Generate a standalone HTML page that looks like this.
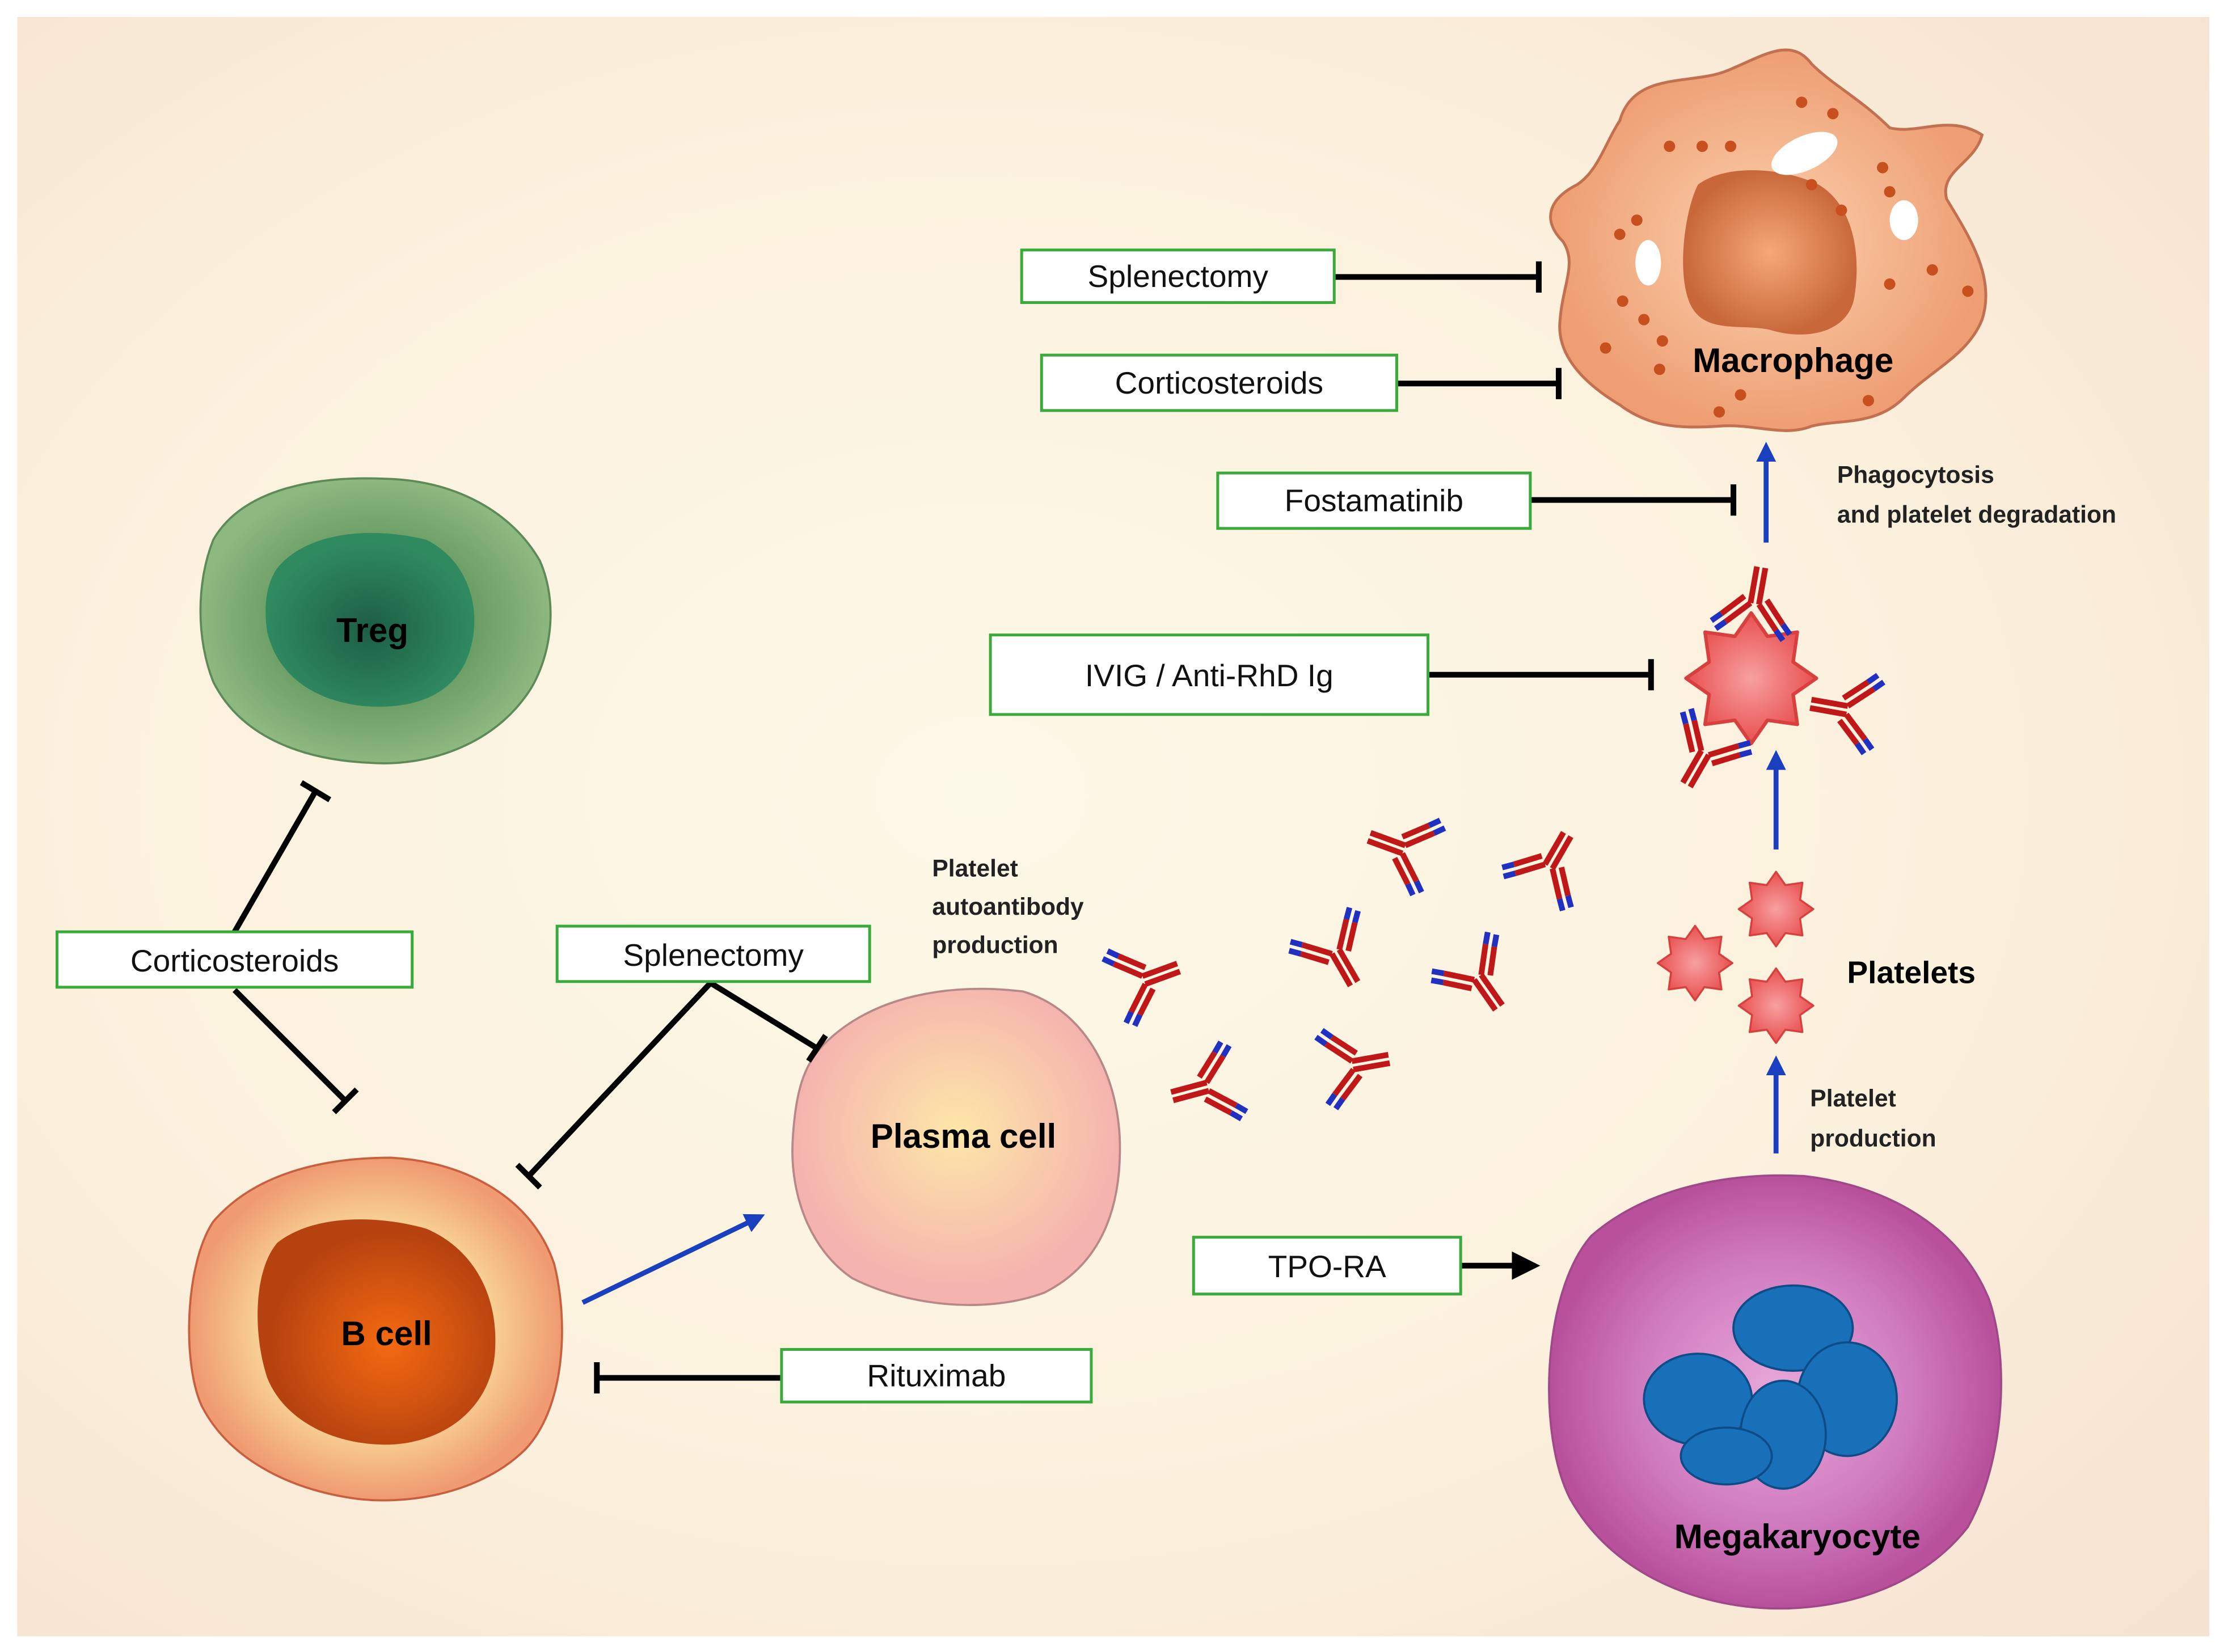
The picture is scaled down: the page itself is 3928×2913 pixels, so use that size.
<!DOCTYPE html>
<html><head><meta charset="utf-8"><style>html,body{margin:0;padding:0;background:#fff}svg{display:block}</style></head><body>
<svg width="3928" height="2913" viewBox="0 0 1568 1163" xmlns="http://www.w3.org/2000/svg" font-family="Liberation Sans, sans-serif">
<defs>
<radialGradient id="bg" cx="0.44" cy="0.48" r="0.75"><stop offset="0" stop-color="#fdf9e8"/><stop offset="0.6" stop-color="#fbf0dc"/><stop offset="1" stop-color="#f6e2d0"/></radialGradient>
<radialGradient id="treg" cx="0.5" cy="0.5" r="0.5"><stop offset="0" stop-color="#3c7a40"/><stop offset="1" stop-color="#8db880"/></radialGradient>
<radialGradient id="tregn" cx="0.5" cy="0.55" r="0.5"><stop offset="0" stop-color="#1d5e45"/><stop offset="1" stop-color="#2f8a60"/></radialGradient>
<radialGradient id="bc" cx="0.5" cy="0.5" r="0.5"><stop offset="0.5" stop-color="#fbe2a0"/><stop offset="1" stop-color="#ef9a70"/></radialGradient>
<radialGradient id="bcn" cx="0.55" cy="0.55" r="0.5"><stop offset="0" stop-color="#f46a10"/><stop offset="1" stop-color="#b64210"/></radialGradient>
<radialGradient id="pc" cx="0.5" cy="0.45" r="0.5"><stop offset="0" stop-color="#fde7a8"/><stop offset="1" stop-color="#f4b3ae"/></radialGradient>
<radialGradient id="mk" cx="0.5" cy="0.5" r="0.5"><stop offset="0" stop-color="#e8a8d8"/><stop offset="0.6" stop-color="#d07cc0"/><stop offset="1" stop-color="#b8509c"/></radialGradient>
<radialGradient id="mac" cx="0.5" cy="0.5" r="0.5"><stop offset="0" stop-color="#fbd2b0"/><stop offset="1" stop-color="#ee9e72"/></radialGradient>
<radialGradient id="macn" cx="0.5" cy="0.5" r="0.5"><stop offset="0" stop-color="#f6a878"/><stop offset="1" stop-color="#c8683a"/></radialGradient>
<radialGradient id="plt" cx="0.5" cy="0.5" r="0.5"><stop offset="0" stop-color="#f8a0a0"/><stop offset="1" stop-color="#e85050"/></radialGradient>
<symbol id="plat" viewBox="-32 -32 64 64" overflow="visible">
<polygon points="28,0 18,7 19.8,19.8 7,18 0,28 -7,18 -19.8,19.8 -18,7 -28,0 -18,-7 -19.8,-19.8 -7,-18 0,-28 7,-18 19.8,-19.8 18,-7" fill="url(#plt)" stroke="#d84040" stroke-width="1.5" stroke-linejoin="round"/>
</symbol>
<g id="ab">
<line x1="-3" y1="0" x2="-3" y2="26" stroke="#c01818" stroke-width="4"/>
<line x1="3" y1="0" x2="3" y2="26" stroke="#c01818" stroke-width="4"/>
<line x1="-3" y1="0" x2="-18" y2="-16" stroke="#c01818" stroke-width="4"/>
<line x1="-8" y1="4" x2="-22" y2="-11" stroke="#c01818" stroke-width="4"/>
<line x1="3" y1="0" x2="18" y2="-16" stroke="#c01818" stroke-width="4"/>
<line x1="8" y1="4" x2="22" y2="-11" stroke="#c01818" stroke-width="4"/>
<line x1="-18" y1="-16" x2="-24" y2="-22" stroke="#2030c0" stroke-width="4"/>
<line x1="-22" y1="-11" x2="-28" y2="-17" stroke="#2030c0" stroke-width="4"/>
<line x1="18" y1="-16" x2="24" y2="-22" stroke="#2030c0" stroke-width="4"/>
<line x1="22" y1="-11" x2="28" y2="-17" stroke="#2030c0" stroke-width="4"/>
</g>
<marker id="ba" markerWidth="4" markerHeight="4" refX="2" refY="2" orient="auto" markerUnits="strokeWidth"><path d="M0,0 L4,2 L0,4 z" fill="#1a3fbf"/></marker>
<marker id="ka" markerWidth="5" markerHeight="5" refX="3" refY="2.5" orient="auto" markerUnits="strokeWidth"><path d="M0,0 L5,2.5 L0,5 z" fill="#000"/></marker>
</defs>
<rect x="0" y="0" width="1568" height="1163" fill="#fff"/>
<rect x="12" y="12" width="1543" height="1140" fill="url(#bg)"/>

<path d="M150,380 C170,345 220,335 270,337 C320,338 360,360 380,395 C395,430 385,470 370,490 C345,525 300,540 260,537 C215,535 170,520 150,480 C138,450 138,410 150,380 Z" fill="url(#treg)" stroke="#5e8a58" stroke-width="1.5"/>
<path d="M195,400 C215,375 260,370 300,380 C330,395 340,430 330,460 C320,490 290,500 255,497 C220,493 195,475 188,445 C185,425 188,410 195,400 Z" fill="url(#tregn)"/>
<text x="262" y="452" font-size="24" font-weight="bold" text-anchor="middle">Treg</text>

<path d="M150,860 C180,825 230,815 275,815 C330,818 375,845 390,890 C400,930 398,990 370,1020 C340,1050 290,1060 250,1055 C200,1048 160,1025 142,990 C128,960 130,890 150,860 Z" fill="url(#bc)" stroke="#c86040" stroke-width="1.5"/>
<path d="M195,875 C220,855 265,855 300,865 C335,880 352,915 348,955 C344,990 315,1015 275,1017 C235,1018 200,1000 188,970 C178,940 178,895 195,875 Z" fill="url(#bcn)"/>
<text x="272" y="947" font-size="24" font-weight="bold" text-anchor="middle">B cell</text>

<path d="M580,735 C615,700 670,692 720,698 C760,710 785,750 788,800 C790,850 775,890 735,910 C695,925 640,920 600,900 C570,880 555,840 558,800 C560,770 565,750 580,735 Z" fill="url(#pc)" stroke="#b88888" stroke-width="1.5"/>
<text x="678" y="808" font-size="24" font-weight="bold" text-anchor="middle">Plasma cell</text>

<path d="M1120,870 C1160,835 1220,825 1270,828 C1330,835 1380,865 1400,915 C1415,960 1410,1030 1385,1075 C1350,1120 1290,1135 1240,1132 C1180,1128 1130,1100 1105,1055 C1082,1010 1085,910 1120,870 Z" fill="url(#mk)" stroke="#a04888" stroke-width="1.5"/>
<g fill="#1870b8" stroke="#0e4c88" stroke-width="1.5">
<ellipse cx="1262" cy="935" rx="42" ry="30"/>
<ellipse cx="1195" cy="985" rx="38" ry="32"/>
<ellipse cx="1300" cy="985" rx="35" ry="40"/>
<ellipse cx="1255" cy="1010" rx="30" ry="38"/>
<ellipse cx="1215" cy="1025" rx="32" ry="20"/>
</g>
<text x="1265" y="1090" font-size="24" font-weight="bold" text-anchor="middle">Megakaryocyte</text>

<path d="M1140,85 C1150,50 1190,60 1215,50 C1240,40 1260,25 1275,45 C1290,60 1310,70 1330,90 C1350,95 1372,80 1395,95 C1390,115 1365,120 1370,140 C1385,165 1405,195 1395,225 C1385,250 1360,260 1340,280 C1320,300 1295,295 1275,300 C1255,308 1235,298 1210,300 C1180,302 1160,300 1140,285 C1115,270 1095,250 1098,225 C1100,200 1110,185 1100,170 C1085,155 1090,140 1110,130 C1125,120 1130,100 1140,85 Z" fill="url(#mac)" stroke="#c27050" stroke-width="2"/>
<path d="M1195,130 C1215,115 1255,118 1280,130 C1305,145 1310,180 1305,210 C1300,235 1270,240 1245,232 C1225,228 1200,235 1190,215 C1180,195 1185,150 1195,130 Z" fill="url(#macn)"/>
<g fill="#fff"><ellipse cx="1270" cy="108" rx="25" ry="12" transform="rotate(-25 1270 108)"/><ellipse cx="1160" cy="185" rx="9" ry="16"/><ellipse cx="1340" cy="155" rx="10" ry="14"/></g>
<g fill="#c8501e">
<circle cx="1175" cy="103" r="4"/><circle cx="1198" cy="103" r="4"/><circle cx="1218" cy="103" r="4"/><circle cx="1268" cy="72" r="4"/><circle cx="1290" cy="80" r="4"/><circle cx="1325" cy="118" r="4"/><circle cx="1330" cy="135" r="4"/><circle cx="1275" cy="130" r="4"/><circle cx="1296" cy="148" r="4"/><circle cx="1330" cy="200" r="4"/><circle cx="1385" cy="205" r="4"/><circle cx="1360" cy="190" r="4"/><circle cx="1140" cy="165" r="4"/><circle cx="1152" cy="155" r="4"/><circle cx="1142" cy="212" r="4"/><circle cx="1157" cy="225" r="4"/><circle cx="1170" cy="240" r="4"/><circle cx="1130" cy="245" r="4"/><circle cx="1225" cy="278" r="4"/><circle cx="1210" cy="290" r="4"/><circle cx="1315" cy="282" r="4"/><circle cx="1168" cy="260" r="4"/>
</g>
<text x="1262" y="262" font-size="24" font-weight="bold" text-anchor="middle">Macrophage</text>

<use href="#plat" x="1220" y="610" width="60" height="60"/>
<use href="#plat" x="1163" y="648" width="60" height="60"/>
<use href="#plat" x="1220" y="678" width="60" height="60"/>
<use href="#plat" x="1180" y="425" width="105" height="105"/>

<use href="#ab" transform="translate(805,690) rotate(-110)"/>
<use href="#ab" transform="translate(850,765) rotate(75)"/>
<use href="#ab" transform="translate(940,670) rotate(-30)"/>
<use href="#ab" transform="translate(952,750) rotate(-100)"/>
<use href="#ab" transform="translate(988,598) rotate(110)"/>
<use href="#ab" transform="translate(1040,688) rotate(-35)"/>
<use href="#ab" transform="translate(1090,610) rotate(-150)"/>
<use href="#ab" transform="translate(1235,425) rotate(190)"/>
<use href="#ab" transform="translate(1300,500) rotate(100)"/>
<use href="#ab" transform="translate(1200,530) rotate(30)"/>

<g stroke="#000" stroke-width="4" fill="none">
<line x1="939" y1="195" x2="1083" y2="195"/><line x1="1083" y1="184" x2="1083" y2="206"/>
<line x1="983" y1="270" x2="1097" y2="270"/><line x1="1097" y1="259" x2="1097" y2="281"/>
<line x1="1077" y1="352" x2="1220" y2="352"/><line x1="1220" y1="341" x2="1220" y2="363"/>
<line x1="1005" y1="475" x2="1162" y2="475"/><line x1="1162" y1="464" x2="1162" y2="486"/>
<line x1="165" y1="656" x2="222" y2="557"/><line x1="212" y1="551" x2="232" y2="563"/>
<line x1="165" y1="697" x2="243" y2="775"/><line x1="235" y1="783" x2="251" y2="767"/>
<line x1="500" y1="692" x2="372" y2="828"/><line x1="364" y1="820" x2="380" y2="836"/>
<line x1="500" y1="692" x2="575" y2="738"/><line x1="569" y1="747" x2="581" y2="729"/>
<line x1="550" y1="970" x2="420" y2="970"/><line x1="420" y1="959" x2="420" y2="981"/>
<line x1="1028" y1="891" x2="1076" y2="891" marker-end="url(#ka)"/>
</g>
<g stroke="#1a3fbf" stroke-width="3.5" fill="none">
<line x1="410" y1="917" x2="532" y2="858" marker-end="url(#ba)"/>
<line x1="1250" y1="812" x2="1250" y2="750" marker-end="url(#ba)"/>
<line x1="1250" y1="598" x2="1250" y2="535" marker-end="url(#ba)"/>
<line x1="1243" y1="382" x2="1243" y2="318" marker-end="url(#ba)"/>
</g>

<g fill="#fff" stroke="#3aaa3a" stroke-width="2">
<rect x="719" y="176" width="220" height="37"/>
<rect x="733" y="250" width="250" height="39"/>
<rect x="857" y="333" width="220" height="39"/>
<rect x="697" y="447" width="308" height="56"/>
<rect x="40" y="656" width="250" height="39"/>
<rect x="392" y="652" width="220" height="39"/>
<rect x="840" y="871" width="188" height="40"/>
<rect x="550" y="950" width="218" height="37"/>
</g>
<g font-size="22" text-anchor="middle" fill="#111">
<text x="829" y="202">Splenectomy</text>
<text x="858" y="277">Corticosteroids</text>
<text x="967" y="360">Fostamatinib</text>
<text x="851" y="483">IVIG / Anti-RhD Ig</text>
<text x="165" y="684">Corticosteroids</text>
<text x="502" y="680">Splenectomy</text>
<text x="934" y="899">TPO-RA</text>
<text x="659" y="976">Rituximab</text>
</g>
<g font-size="17" font-weight="bold" fill="#222">
<text x="656" y="617">Platelet</text>
<text x="656" y="644">autoantibody</text>
<text x="656" y="671">production</text>
<text x="1274" y="779">Platelet</text>
<text x="1274" y="807">production</text>
<text x="1293" y="340">Phagocytosis</text>
<text x="1293" y="368">and platelet degradation</text>
</g>
<text x="1300" y="692" font-size="22" font-weight="bold">Platelets</text>
</svg>
</body></html>
